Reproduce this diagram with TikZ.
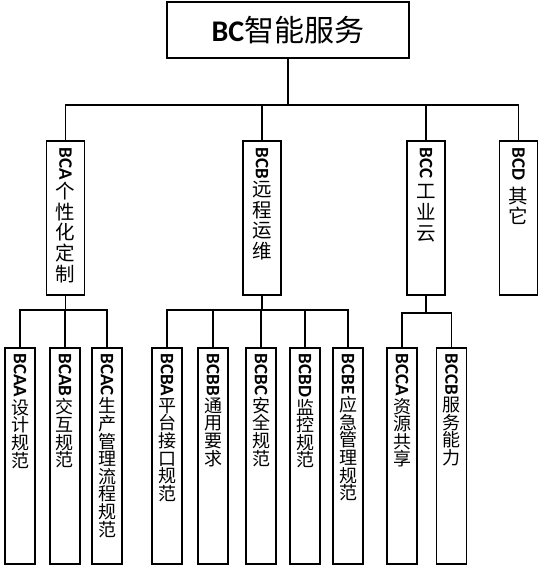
\documentclass[tikz,border=0pt]{standalone}
\usepackage{graphicx}
\usepackage{fontspec}
\setmainfont{Carlito}
\newfontfamily\cjk{Noto Sans CJK SC}
\newcommand{\vfont}{\cjk\fontsize{19.5}{20.7}\selectfont}
\newcommand{\leaffont}{\cjk\fontsize{18}{17.6}\selectfont}
\newcommand{\vlab}[2]{\vtop{\lineskip=2pt\let\\\cr
   \halign{\hfil##\hfil\cr\rotatebox{-90}{\rmfamily\bfseries\fontsize{19}{19}\selectfont #1}\cr#2\cr}}}
\begin{document}
\begin{tikzpicture}[x=1pt, y=-1pt, line width=1.2pt,
   topbox/.style={draw, line width=1.5pt, minimum width=242pt, minimum height=56pt,
     inner sep=0pt, font=\cjk\fontsize{30}{32}\selectfont},
   midbox/.style={draw, line width=1.5pt, anchor=north, font=\vfont,
     minimum width=38pt, inner xsep=0pt, inner ysep=7pt, text height=0pt, text depth=140pt},
   leafbox/.style={draw, line width=1.5pt, anchor=north, font=\leaffont,
     minimum width=30pt, inner xsep=0pt, inner ysep=6pt, text height=0pt, text depth=204pt}]
   \useasboundingbox (0,0) rectangle (539,566);
   \node[topbox] (bc) at (288,30) {{\rmfamily\bfseries BC}智能服务};
   \node[midbox] (bca) at (65.5,140) {\vlab{BCA}{个\\性\\化\\定\\制}};
   \node[midbox] (bcb) at (262,140) {\vlab{BCB}{远\\程\\运\\维}};
   \node[midbox] (bcc) at (426,140) {\vlab{BCC\ }{工\\业\\云}};
   \node[midbox] (bcd) at (518.5,140) {\vlab{BCD\ }{其\\它}};
   \node[leafbox] (bcaa) at (20,347) {\vlab{BCAA}{设\\计\\规\\范}};
   \node[leafbox] (bcab) at (65,347) {\vlab{BCAB}{交\\互\\规\\范}};
   \node[leafbox] (bcac) at (107,347) {\vlab{BCAC}{生\\产\\管\\理\\流\\程\\规\\范}};
   \node[leafbox] (bcba) at (167,347) {\vlab{BCBA}{平\\台\\接\\口\\规\\范}};
   \node[leafbox] (bcbb) at (213,347) {\vlab{BCBB}{通\\用\\要\\求}};
   \node[leafbox] (bcbc) at (261,347) {\vlab{BCBC}{安\\全\\规\\范}};
   \node[leafbox] (bcbd) at (305,347) {\vlab{BCBD}{监\\控\\规\\范}};
   \node[leafbox] (bcbe) at (348,347) {\vlab{BCBE}{应\\急\\管\\理\\规\\范}};
   \node[leafbox] (bcca) at (402,347) {\vlab{BCCA}{资\\源\\共\\享}};
   \node[leafbox] (bccb) at (451.5,347) {\vlab{BCCB}{服\\务\\能\\力}};
   \coordinate (bus) at (0,105);
   \coordinate (busa) at (0,310);
   \coordinate (busc) at (0,313);
   \foreach \c in {bca,bcb,bcc,bcd}
     \draw (bc.south) |- (\c.north |- bus) -- (\c.north);
   \foreach \p/\c/\b in {bca/bcaa/busa, bca/bcab/busa, bca/bcac/busa,
       bcb/bcba/busa, bcb/bcbb/busa, bcb/bcbc/busa, bcb/bcbd/busa, bcb/bcbe/busa,
       bcc/bcca/busc, bcc/bccb/busc}
     \draw (\p.south) |- (\c.north |- \b) -- (\c.north);
\end{tikzpicture}
\end{document}
